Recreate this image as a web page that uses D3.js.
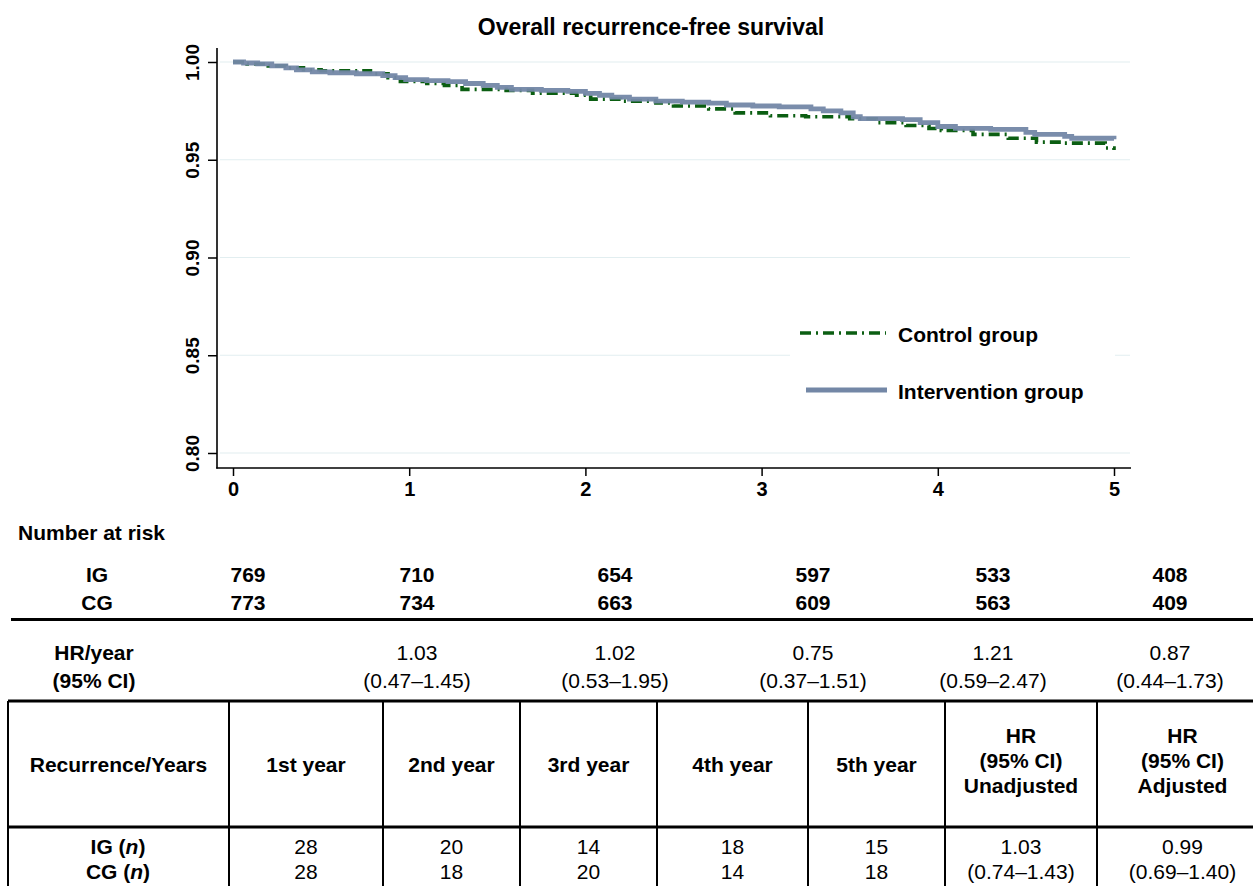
<!DOCTYPE html>
<html><head><meta charset="utf-8">
<script src="https://cdn.jsdelivr.net/npm/d3@7"></script>
<style>body{margin:0;background:#fff;}svg{display:block;font-family:Arial,"Liberation Sans",sans-serif;}</style>
</head><body><svg id="c" width="1253" height="886"></svg>
<script>
// ---- data ----
const igTime = [0,0.06,0.14,0.22,0.30,0.36,0.45,0.55,0.70,0.85,0.92,0.98,1.10,1.22,1.32,1.42,1.50,1.58,1.75,1.90,2.00,2.08,2.15,2.25,2.40,2.55,2.70,2.80,2.95,3.10,3.28,3.35,3.45,3.52,3.56,3.80,3.90,4.00,4.10,4.30,4.50,4.55,4.72,4.76,5.00];
const igSurv = [1.000,0.9995,0.999,0.998,0.997,0.996,0.995,0.9945,0.994,0.993,0.992,0.991,0.9905,0.990,0.989,0.988,0.987,0.986,0.9855,0.985,0.984,0.983,0.982,0.981,0.980,0.9795,0.979,0.978,0.9775,0.977,0.976,0.975,0.974,0.972,0.971,0.9705,0.969,0.967,0.966,0.9655,0.964,0.963,0.962,0.961,0.9605];
const cgTime = [0,0.08,0.20,0.30,0.40,0.50,0.78,0.88,0.95,1.10,1.20,1.30,1.55,1.70,1.95,2.03,2.20,2.40,2.50,2.70,2.85,3.05,3.25,3.50,3.65,3.82,3.95,4.02,4.20,4.40,4.56,4.70,4.95,5.00];
const cgSurv = [1.000,0.999,0.998,0.997,0.996,0.9955,0.994,0.992,0.990,0.989,0.988,0.986,0.9855,0.984,0.983,0.981,0.980,0.979,0.9775,0.976,0.974,0.9725,0.972,0.971,0.969,0.9675,0.966,0.965,0.963,0.961,0.959,0.9585,0.956,0.955];
const xTicks = [0,1,2,3,4,5];
const yTicks = [0.80,0.85,0.90,0.95,1.00];
const riskIG = [769,710,654,597,533,408];
const riskCG = [773,734,663,609,563,409];
const hrYear = ["1.03","1.02","0.75","1.21","0.87"];
const hrYearCI = ["(0.47\u20131.45)","(0.53\u20131.95)","(0.37\u20131.51)","(0.59\u20132.47)","(0.44\u20131.73)"];
const tblHeaders = [["Recurrence/Years"],["1st year"],["2nd year"],["3rd year"],["4th year"],["5th year"],["HR","(95% CI)","Unadjusted"],["HR","(95% CI)","Adjusted"]];
const recIG = ["28","20","14","18","15"];
const recCG = ["28","18","20","14","18"];
const hrUnadj = ["1.03","(0.74\u20131.43)"];
const hrAdj = ["0.99","(0.69\u20131.40)"];

const FS = 21;
const svg = d3.select("#c");
const x = d3.scaleLinear().domain([0,5]).range([233,1114]);
const y = d3.scaleLinear().domain([0.8,1.0]).range([453,62]);
const green = "#0b5e12", blue = "#7387a6";

// title
svg.append("text").attr("x",651).attr("y",35).attr("text-anchor","middle")
  .attr("font-weight","bold").attr("font-size",23).text("Overall recurrence-free survival");

// gridlines
svg.append("g").selectAll("line").data(yTicks).join("line")
  .attr("x1",220).attr("x2",1130).attr("y1",d=>y(d)).attr("y2",d=>y(d))
  .attr("stroke","#e2eef0").attr("stroke-width",1.2);

// axes
const gy = svg.append("g").attr("transform","translate(217,0)")
  .call(d3.axisLeft(y).tickValues(yTicks).tickFormat(d3.format(".2f")).tickSize(9).tickPadding(0));
gy.select(".domain").remove();
gy.selectAll(".tick line").attr("stroke","#000").attr("stroke-width",1.5);
gy.selectAll(".tick text").attr("x",0).attr("y",0).attr("dy",null)
  .attr("transform","translate(-18,0) rotate(-90)").attr("text-anchor","middle")
  .attr("font-size",19).attr("font-weight","bold").attr("fill","#000").attr("font-family","Arial,'Liberation Sans',sans-serif");
const gx = svg.append("g").attr("transform","translate(0,468)")
  .call(d3.axisBottom(x).tickValues(xTicks).tickFormat(d3.format("d")).tickSize(8).tickPadding(6));
gx.select(".domain").remove();
gx.selectAll(".tick line").attr("stroke","#000").attr("stroke-width",1.5);
gx.selectAll(".tick text").attr("font-size",20).attr("font-weight","bold").attr("fill","#000").attr("font-family","Arial,'Liberation Sans',sans-serif");
svg.append("line").attr("x1",217).attr("x2",217).attr("y1",48).attr("y2",468.5).attr("stroke","#000").attr("stroke-width",1.6);
svg.append("line").attr("x1",216.2).attr("x2",1131).attr("y1",468).attr("y2",468).attr("stroke","#000").attr("stroke-width",1.6);

// curves
const line = d3.line().x(d=>x(d[0])).y(d=>y(d[1])).curve(d3.curveStepAfter);
const ig = igTime.map((t,i)=>[t,igSurv[i]]);
const cg = cgTime.map((t,i)=>[t,cgSurv[i]]);
svg.append("path").attr("d",line(cg)).attr("fill","none").attr("stroke",green).attr("stroke-width",3.6)
  .attr("stroke-dasharray","11,5,2,5");
svg.append("path").attr("d",line(ig)).attr("fill","none").attr("stroke",blue).attr("stroke-width",4.8).attr("stroke-opacity",0.95);

// legend
svg.append("rect").attr("x",790).attr("y",312).attr("width",325).attr("height",100).attr("fill","#fff");
svg.append("line").attr("x1",800).attr("x2",886).attr("y1",333).attr("y2",333).attr("stroke",green).attr("stroke-width",3.6).attr("stroke-dasharray","11,5,2,5");
svg.append("line").attr("x1",806).attr("x2",887).attr("y1",390).attr("y2",390).attr("stroke",blue).attr("stroke-width",4.8);
svg.append("text").attr("x",898).attr("y",342).attr("font-size",FS).attr("font-weight","bold").text("Control group");
svg.append("text").attr("x",898).attr("y",399).attr("font-size",FS).attr("font-weight","bold").text("Intervention group");

// number at risk
const riskCols = [248,417,615,813,993,1170];
svg.append("text").attr("x",18).attr("y",540).attr("font-size",FS).attr("font-weight","bold").text("Number at risk");
svg.append("text").attr("x",97).attr("y",582).attr("text-anchor","middle").attr("font-size",FS).attr("font-weight","bold").text("IG");
svg.append("text").attr("x",97).attr("y",610).attr("text-anchor","middle").attr("font-size",FS).attr("font-weight","bold").text("CG");
svg.append("g").selectAll("text").data(riskIG).join("text").attr("x",(d,i)=>riskCols[i]).attr("y",582)
  .attr("text-anchor","middle").attr("font-size",FS).attr("font-weight","bold").text(d=>d);
svg.append("g").selectAll("text").data(riskCG).join("text").attr("x",(d,i)=>riskCols[i]).attr("y",610)
  .attr("text-anchor","middle").attr("font-size",FS).attr("font-weight","bold").text(d=>d);
svg.append("line").attr("x1",11).attr("x2",1253).attr("y1",619.5).attr("y2",619.5).attr("stroke","#000").attr("stroke-width",3);

// HR/year
svg.append("text").attr("x",94).attr("y",660).attr("text-anchor","middle").attr("font-size",FS).attr("font-weight","bold").text("HR/year");
svg.append("text").attr("x",94).attr("y",688).attr("text-anchor","middle").attr("font-size",FS).attr("font-weight","bold").text("(95% CI)");
svg.append("g").selectAll("text").data(hrYear).join("text").attr("x",(d,i)=>riskCols[i+1]).attr("y",660)
  .attr("text-anchor","middle").attr("font-size",FS).text(d=>d);
svg.append("g").selectAll("text").data(hrYearCI).join("text").attr("x",(d,i)=>riskCols[i+1]).attr("y",688)
  .attr("text-anchor","middle").attr("font-size",FS).text(d=>d);

// table
const colX = [8,229,383,520,657,808,945,1097,1268];
const tTop = 701, tSep = 827, tBot = 900;
const tg = svg.append("g").attr("stroke","#000");
tg.append("line").attr("x1",8).attr("x2",1253).attr("y1",tTop).attr("y2",tTop).attr("stroke-width",3);
tg.append("line").attr("x1",8).attr("x2",1253).attr("y1",tSep).attr("y2",tSep).attr("stroke-width",3);
tg.selectAll("line.v").data(colX).join("line").attr("class","v").attr("x1",d=>d).attr("x2",d=>d)
  .attr("y1",tTop).attr("y2",tBot).attr("stroke-width",2);
tblHeaders.forEach((lines,i)=>{
  const cx = (colX[i]+colX[i+1])/2;
  const y0 = 772 - (lines.length-1)*25;
  lines.forEach((s,j)=>{
    svg.append("text").attr("x",cx).attr("y",lines.length>1 ? 743+j*25 : 772).attr("text-anchor","middle")
      .attr("font-size",FS).attr("font-weight","bold").text(s);
  });
});
const igLab = svg.append("text").attr("x",118).attr("y",854).attr("text-anchor","middle").attr("font-size",FS).attr("font-weight","bold");
igLab.append("tspan").text("IG (");igLab.append("tspan").attr("font-style","italic").text("n");igLab.append("tspan").text(")");
const cgLab = svg.append("text").attr("x",118).attr("y",879).attr("text-anchor","middle").attr("font-size",FS).attr("font-weight","bold");
cgLab.append("tspan").text("CG (");cgLab.append("tspan").attr("font-style","italic").text("n");cgLab.append("tspan").text(")");
recIG.forEach((v,i)=>svg.append("text").attr("x",(colX[i+1]+colX[i+2])/2).attr("y",854).attr("text-anchor","middle").attr("font-size",FS).text(v));
recCG.forEach((v,i)=>svg.append("text").attr("x",(colX[i+1]+colX[i+2])/2).attr("y",879).attr("text-anchor","middle").attr("font-size",FS).text(v));
hrUnadj.forEach((v,j)=>svg.append("text").attr("x",(colX[6]+colX[7])/2).attr("y",854+j*25).attr("text-anchor","middle").attr("font-size",FS).text(v));
hrAdj.forEach((v,j)=>svg.append("text").attr("x",(colX[7]+colX[8])/2).attr("y",854+j*25).attr("text-anchor","middle").attr("font-size",FS).text(v));
</script></body></html>
